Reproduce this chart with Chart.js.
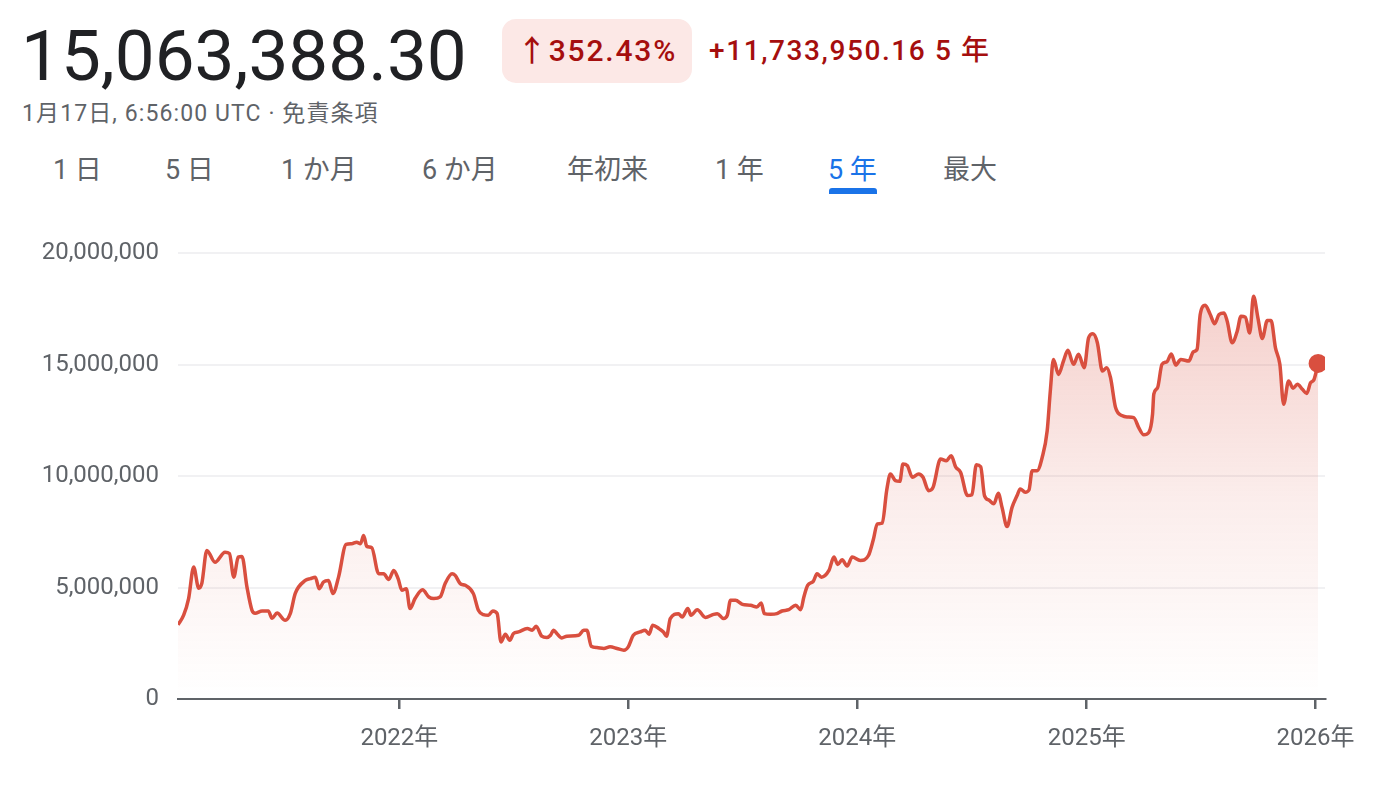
<!DOCTYPE html>
<html lang="ja">
<head>
<meta charset="utf-8">
<script src="https://cdn.jsdelivr.net/npm/chart.js@4.4.1/dist/chart.umd.min.js"></script>
<style>
  body { margin: 0; background: #fff; font-family: Roboto, "Noto Sans CJK JP", sans-serif; width: 1383px; height: 785px; overflow: hidden; position: relative; }
  .abs { position: absolute; white-space: nowrap; }
  #preco { left: 21px; top: 16px; font-size: 71px; color: #202124; line-height: 80px; }
  #badge { left: 502px; top: 19px; width: 190px; height: 64px; background: #fce8e6; border-radius: 14px; color: #a50e0e; font-size: 30px; font-weight: 500; letter-spacing: 1.8px; line-height: 64px; text-align: center; }
  #variacao { left: 709px; top: 19px; font-size: 28px; font-weight: 500; letter-spacing: 1.6px; line-height: 64px; color: #a50e0e; }
  #subtitulo { left: 22px; top: 100px; font-size: 23px; letter-spacing: 1.1px; line-height: 28px; color: #5f6368; }
  .aba { top: 154px; font-size: 27px; line-height: 32px; color: #5f6368; }
  #ativa { color: #1a73e8; }
  #sublinha { left: 829px; top: 188px; width: 48px; height: 6px; background: #1a73e8; border-radius: 3px 3px 0 0; }
  #caixa { left: 0; top: 220px; width: 1383px; height: 565px; }
</style>
</head>
<body>
<div class="abs" id="preco">15,063,388.30</div>
<div class="abs" id="badge">↑352.43%</div>
<div class="abs" id="variacao">+11,733,950.16 5 年</div>
<div class="abs" id="subtitulo">1月17日, 6:56:00 UTC · 免責条項</div>
<div class="abs aba" style="left:53px">1 日</div>
<div class="abs aba" style="left:165px">5 日</div>
<div class="abs aba" style="left:281px">1 か月</div>
<div class="abs aba" style="left:422px">6 か月</div>
<div class="abs aba" style="left:567px">年初来</div>
<div class="abs aba" style="left:715px">1 年</div>
<div class="abs aba" id="ativa" style="left:828px">5 年</div>
<div class="abs aba" style="left:943px">最大</div>
<div class="abs" id="sublinha"></div>
<div class="abs" id="caixa"><canvas id="grafico-linha" width="1383" height="565"></canvas></div>

<script>
// datas (aprox.) e valores em ienes
var datas = [
  '2021-01-13','2021-01-22','2021-01-30','2021-02-07','2021-02-15','2021-02-20','2021-02-28','2021-03-13','2021-03-29','2021-04-05',
  '2021-04-12','2021-04-19','2021-04-25','2021-05-03','2021-05-11','2021-05-16','2021-05-27','2021-06-06','2021-06-12','2021-06-20',
  '2021-07-03','2021-07-11','2021-07-19','2021-08-04','2021-08-12','2021-08-20','2021-08-26','2021-09-02','2021-09-10','2021-09-17',
  '2021-09-26','2021-10-08','2021-10-17','2021-10-25','2021-10-31','2021-11-05','2021-11-10','2021-11-18','2021-11-29','2021-12-07',
  '2021-12-15','2021-12-23','2021-12-30','2022-01-05','2022-01-12','2022-01-18','2022-01-26','2022-02-07','2022-02-17','2022-02-25',
  '2022-03-07','2022-03-15','2022-03-26','2022-03-31','2022-04-08','2022-04-16','2022-04-29','2022-05-07','2022-05-15','2022-05-23',
  '2022-05-30','2022-06-06','2022-06-12','2022-06-19','2022-06-26','2022-07-02','2022-07-10','2022-07-24','2022-08-01','2022-08-07',
  '2022-08-16','2022-08-24','2022-08-30','2022-09-04','2022-09-09','2022-09-17','2022-09-25','2022-10-14','2022-10-22','2022-10-27',
  '2022-11-03','2022-11-12','2022-11-23','2022-12-03','2022-12-14','2022-12-25','2023-01-01','2023-01-09','2023-01-20','2023-01-28',
  '2023-02-03','2023-02-09','2023-02-19','2023-02-26','2023-03-03','2023-03-09','2023-03-22','2023-03-28','2023-04-06','2023-04-11',
  '2023-04-21','2023-05-04','2023-05-17','2023-05-23','2023-06-02','2023-06-08','2023-06-13','2023-06-21','2023-07-02','2023-07-15',
  '2023-07-25','2023-08-01','2023-08-06','2023-08-16','2023-08-26','2023-09-03','2023-09-14','2023-09-25','2023-10-03','2023-10-08',
  '2023-10-14','2023-10-23','2023-10-29','2023-11-05','2023-11-17','2023-11-25','2023-12-01','2023-12-08','2023-12-16','2023-12-24',
  '2024-01-06','2024-01-19','2024-01-27','2024-02-02','2024-02-10','2024-02-17','2024-02-23','2024-03-02','2024-03-09','2024-03-14',
  '2024-03-21','2024-03-29','2024-04-08','2024-04-15','2024-04-24','2024-05-01','2024-05-13','2024-05-22','2024-05-30','2024-06-06',
  '2024-06-14','2024-06-25','2024-07-02','2024-07-09','2024-07-16','2024-07-22','2024-07-29','2024-08-06','2024-08-13','2024-08-19',
  '2024-08-27','2024-09-04','2024-09-12','2024-09-17','2024-09-25','2024-10-01','2024-10-06','2024-10-14','2024-10-22','2024-10-30',
  '2024-11-04','2024-11-09','2024-11-17','2024-11-25','2024-12-02','2024-12-11','2024-12-19','2024-12-28','2025-01-04','2025-01-11',
  '2025-01-18','2025-01-26','2025-02-02','2025-02-08','2025-02-16','2025-02-27','2025-03-07','2025-03-17','2025-03-25','2025-04-02',
  '2025-04-10','2025-04-16','2025-04-18','2025-04-24','2025-05-01','2025-05-09','2025-05-16','2025-05-23','2025-05-31','2025-06-13',
  '2025-06-20','2025-06-26','2025-07-01','2025-07-09','2025-07-17','2025-07-24','2025-07-31','2025-08-08','2025-08-13','2025-08-21',
  '2025-08-29','2025-09-04','2025-09-11','2025-09-18','2025-09-24','2025-10-01','2025-10-08','2025-10-16','2025-10-22','2025-10-29',
  '2025-11-05','2025-11-11','2025-11-19','2025-11-26','2025-12-03','2025-12-11','2025-12-18','2025-12-24','2025-12-29','2026-01-05'
];

var valores = [
  3330000,3760000,4520000,5920000,4970000,5190000,6670000,6140000,6590000,6530000,
  5470000,6370000,6400000,5020000,3980000,3850000,3950000,3950000,3620000,3860000,
  3530000,3830000,4740000,5320000,5400000,5470000,4950000,5250000,5320000,4730000,
  5470000,6940000,6970000,7040000,6970000,7340000,6850000,6790000,5620000,5620000,
  5360000,5770000,5400000,4880000,4950000,4060000,4510000,4900000,4580000,4510000,
  4580000,5180000,5620000,5550000,5180000,5100000,4730000,3980000,3790000,3760000,
  3950000,3830000,2560000,2910000,2640000,2940000,3010000,3160000,3090000,3270000,
  2820000,2760000,2860000,3090000,2940000,2740000,2820000,2860000,3090000,3090000,
  2370000,2310000,2270000,2340000,2270000,2190000,2340000,2860000,3010000,3090000,
  2910000,3310000,3160000,3010000,2820000,3610000,3830000,3680000,4060000,3760000,
  4010000,3660000,3800000,3830000,3610000,3760000,4430000,4430000,4250000,4210000,
  4130000,4310000,3830000,3800000,3830000,3950000,4010000,4210000,4010000,4580000,
  5100000,5280000,5620000,5470000,5770000,6370000,6040000,6250000,5970000,6370000,
  6220000,6440000,7180000,7860000,7890000,9350000,10100000,9800000,9770000,10550000,
  10470000,9950000,10100000,9950000,9350000,9500000,10770000,10690000,10920000,10420000,
  10170000,9130000,9170000,10510000,10420000,9130000,8930000,8760000,9230000,8600000,
  7740000,8600000,9130000,9430000,9280000,9380000,10250000,10250000,10840000,12040000,
  13830000,15240000,14570000,15170000,15650000,15020000,15470000,14870000,16210000,16390000,
  15990000,14720000,14870000,14420000,13080000,12710000,12660000,12630000,12180000,11860000,
  11960000,12780000,13680000,13970000,15020000,15140000,15490000,14990000,15240000,15170000,
  15580000,15690000,17260000,17670000,17260000,16840000,17260000,17330000,16960000,15990000,
  16510000,17180000,17140000,16430000,18080000,17110000,16180000,16990000,16990000,15760000,
  15020000,13230000,14270000,13950000,14130000,13900000,13710000,14200000,14310000,15063388.30
];

var anosEixo = [2022, 2023, 2024, 2025, 2026];
var inicioEixo = '2021-01-13';
var fimEixo = '2026-01-16';
var passoY = 5000000;
var maxY = 20000000;

var vermelho = '#d94f3f';

function dias(texto) {
  var p = texto.split('-');
  return Date.UTC(+p[0], +p[1] - 1, +p[2]) / 86400000;
}

var pontos = [];
for (var i = 0; i < datas.length; i++) {
  pontos.push({ x: dias(datas[i]), y: valores[i] });
}

var dados = {
  datasets: [{
    data: pontos,
    borderColor: vermelho,
    borderWidth: 3.5,
    cubicInterpolationMode: 'monotone',
    fill: 'origin',
    backgroundColor: function (ctx) {
      var area = ctx.chart.chartArea;
      if (!area) return 'rgba(217,79,63,0.1)';
      var g = ctx.chart.ctx.createLinearGradient(0, area.top, 0, area.bottom);
      g.addColorStop(0, 'rgba(217,79,63,0.30)');
      g.addColorStop(0.55, 'rgba(217,79,63,0.10)');
      g.addColorStop(1, 'rgba(217,79,63,0.0)');
      return g;
    },
    pointRadius: function (ctx) { return ctx.dataIndex == pontos.length - 1 ? 9.5 : 0; },
    pointBackgroundColor: vermelho,
    pointBorderWidth: 0,
    pointHoverRadius: 0
  }]
};

const config1 = {
  type: 'line',
  data: dados,
  options: {
    responsive: false,
    animation: false,
    events: [],
    layout: { padding: { top: 16, right: 58, left: 0, bottom: 0 } },
    plugins: { legend: { display: false }, tooltip: { enabled: false } },
    scales: {
      x: {
        type: 'linear',
        min: dias(inicioEixo),
        max: dias(fimEixo),
        afterBuildTicks: function (scale) {
          scale.ticks = anosEixo.map(function (a) { return { value: dias(a + '-01-01') }; });
        },
        afterFit: function (scale) { scale.height = 86; },
        ticks: {
          callback: function (v) { return new Date(v * 86400000).getUTCFullYear() + '年'; },
          color: '#5f6368',
          font: { family: 'Roboto, "Noto Sans CJK JP"', size: 24 },
          padding: 16,
          maxRotation: 0,
          autoSkip: false
        },
        grid: { drawOnChartArea: false, drawTicks: true, tickLength: 10, color: '#5f6368', lineWidth: 2.5 },
        border: { display: true, color: '#5f6368', width: 2 }
      },
      y: {
        min: 0,
        max: maxY,
        afterFit: function (scale) { scale.width = 178; },
        ticks: {
          stepSize: passoY,
          callback: function (v) { return v.toLocaleString('en-US'); },
          color: '#5f6368',
          font: { family: 'Roboto', size: 24 },
          padding: 19
        },
        grid: {
          drawTicks: false,
          lineWidth: 2,
          color: function (ctx) { return ctx.tick && ctx.tick.value === 0 ? 'rgba(0,0,0,0)' : '#f1f1f3'; }
        },
        border: { display: false }
      }
    }
  }
};

let myChart = new Chart(document.getElementById('grafico-linha'), config1);
</script>
</body>
</html>
